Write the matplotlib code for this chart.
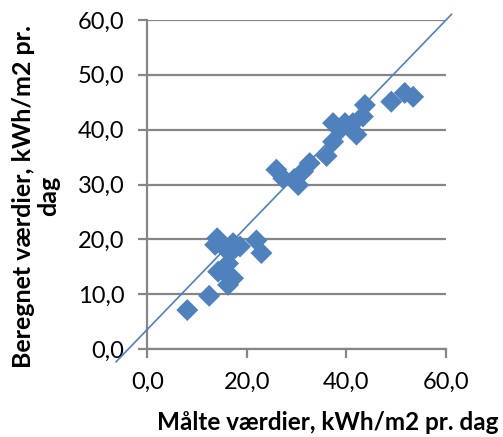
import matplotlib.pyplot as plt
import numpy as np

# measured vs calculated values (kWh/m2 pr. dag)
maalt = [8.0, 12.4, 14.0, 16.2, 17.2, 14.2, 16.2, 16.6, 15.2, 18.6, 17.2, 21.9, 22.9, 13.6,
         25.9, 27.3, 30.3, 31.3, 32.6, 36.0, 37.3, 37.3, 39.7, 42.0, 43.3, 43.7, 41.3,
         49.0, 51.7, 53.4, 38.7, 16.0, 29.5]
beregnet = [7.1, 9.7, 20.2, 11.7, 12.9, 14.1, 15.6, 17.5, 18.7, 18.7, 19.3, 19.8, 17.5, 19.0,
            32.7, 31.1, 29.9, 32.4, 33.9, 35.2, 37.8, 41.2, 41.2, 39.1, 42.4, 44.5, 41.2,
            45.1, 46.7, 46.0, 40.0, 13.5, 31.0]

# trendline (linear, extended backwards and forwards)
trend_slope = 0.94
trend_intercept = 3.6
trend_x = [-6.3, 61.1]

ticks = [0, 10, 20, 30, 40, 50, 60]
xticks = [0, 20, 40, 60]

blue = "#4F81BD"
grey = "#868686"
plt.rcParams['font.family'] = ['Lato', 'DejaVu Sans']

fig = plt.figure(figsize=(5.03, 4.37), dpi=100)
ax = fig.add_axes([0.2932, 0.2014, 0.5935, 0.7528])

ax.scatter(maalt, beregnet, marker='D', s=125, color=blue, edgecolor='none', zorder=3, clip_on=False)
tx = np.array(trend_x)
ax.plot(tx, trend_slope * tx + trend_intercept, color=blue, lw=1.2, zorder=4, clip_on=False)

ax.set_xlim(0, 60)
ax.set_ylim(0, 60)
ax.set_xticks(xticks)
ax.set_yticks(ticks)
ax.set_xticklabels([f"{v:.1f}".replace('.', ',') for v in xticks])
ax.set_yticklabels([f"{v:.1f}".replace('.', ',') for v in ticks])

ax.yaxis.grid(True, color=grey, lw=1.6)
ax.set_axisbelow(True)
for s in ['top', 'right']:
    ax.spines[s].set_visible(False)
for s in ['left', 'bottom']:
    ax.spines[s].set_color(grey)
    ax.spines[s].set_linewidth(1.6)
ax.tick_params(direction='out', length=6.5, width=1.6, color=grey, labelsize=17, pad=10)

fig.text(157 / 503, 1 - 430 / 437, "Målte værdier, kWh/m2 pr. dag", fontsize=17.5, fontweight='bold',
         ha='left', va='baseline')
fig.text(36 / 503, 1 - 196 / 437, "Beregnet værdier, kWh/m2 pr.\ndag", fontsize=18, fontweight='bold',
         ha='center', va='center', rotation=90, multialignment='center', linespacing=1.15)

fig.savefig("out.png", dpi=100)
